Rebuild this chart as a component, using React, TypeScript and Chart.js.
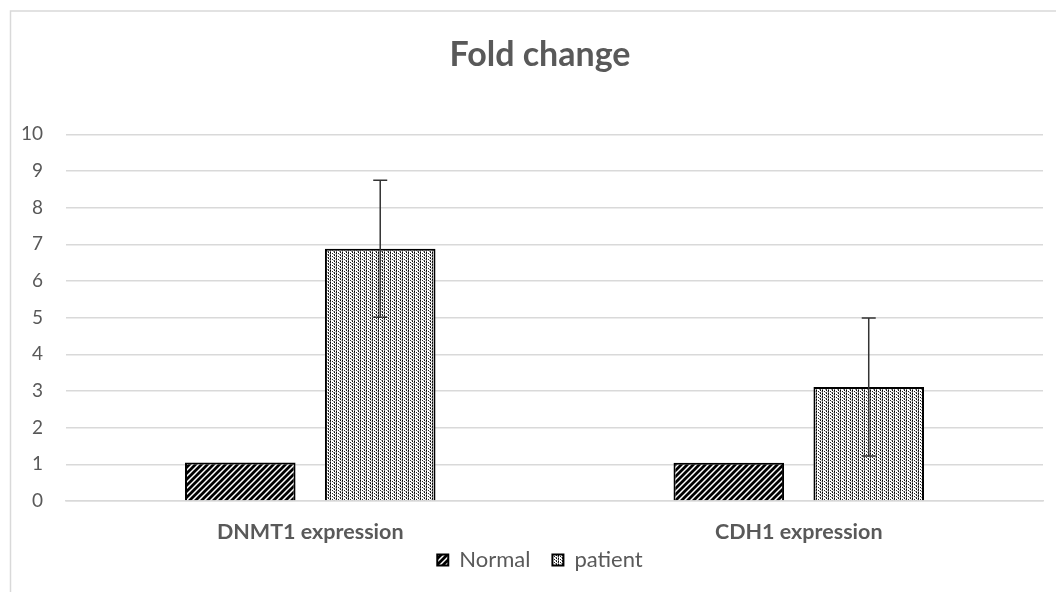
import React, { useEffect, useRef } from "react";
import { Chart, registerables } from "chart.js";

Chart.register(...registerables);

const categories = ["DNMT1 expression", "CDH1 expression"];
const seriesNames = ["Normal", "patient"];
const normalValues = [1.05, 1.04];
const patientValues = [6.88, 3.11];
const patientErrors = [1.87, 1.88];
const yTicks = [0, 1, 2, 3, 4, 5, 6, 7, 8, 9, 10];
const titleText = "Fold change";

const TEXT = "#595959";
const GRID = "#d9d9d9";
const FONT = "Lato, 'Open Sans', sans-serif";
const Y_FONT_SIZE = 19;

function makeHatch(): CanvasPattern | string {
  const c = document.createElement("canvas");
  c.width = 6;
  c.height = 6;
  const g = c.getContext("2d");
  if (!g) return "#444";
  g.fillStyle = "#ffffff";
  g.fillRect(0, 0, 6, 6);
  g.strokeStyle = "#000000";
  g.lineWidth = 2.8;
  g.beginPath();
  g.moveTo(-1, 7);
  g.lineTo(7, -1);
  g.moveTo(-4, 4);
  g.lineTo(4, -4);
  g.moveTo(2, 10);
  g.lineTo(10, 2);
  g.stroke();
  const p = g.createPattern(c, "repeat");
  return p || "#444";
}

function makeDots(): CanvasPattern | string {
  const c = document.createElement("canvas");
  c.width = 6;
  c.height = 3;
  const g = c.getContext("2d");
  if (!g) return "#ccc";
  g.fillStyle = "#ffffff";
  g.fillRect(0, 0, 6, 3);
  const px = (x: number, y: number, col: string) => {
    g.fillStyle = col;
    g.fillRect(x, y, 1, 1);
  };
  px(0, 0, "#000000");
  px(0, 1, "#333333");
  px(0, 2, "#777777");
  px(2, 1, "#222222");
  px(4, 0, "#111111");
  px(4, 2, "#444444");
  px(3, 2, "#999999");
  px(5, 1, "#bbbbbb");
  const p = g.createPattern(c, "repeat");
  return p || "#ccc";
}

function measureWidest(): number {
  const c = document.createElement("canvas");
  const g = c.getContext("2d");
  if (!g) return 21;
  g.font = `normal ${Y_FONT_SIZE}px ${FONT}`;
  let w = 0;
  yTicks.forEach((t) => {
    w = Math.max(w, g.measureText(String(t)).width);
  });
  return w;
}

const framePlugin = {
  id: "frame",
  beforeDraw(chart: any) {
    const ctx = chart.ctx;
    ctx.save();
    ctx.fillStyle = "#ffffff";
    ctx.fillRect(0, 0, chart.width, chart.height);
    ctx.strokeStyle = GRID;
    ctx.lineWidth = 1.5;
    ctx.strokeRect(10.5, 11, 1200, 800);
    ctx.restore();
  },
};

const legendShiftPlugin = {
  id: "legendShift",
  afterLayout(chart: any) {
    const lg = chart.legend;
    if (!lg) return;
    const shift = 17.6;
    lg.top -= shift;
    lg.bottom -= shift;
  },
};

const errorBarPlugin = {
  id: "errorBars",
  afterDatasetsDraw(chart: any) {
    const ctx = chart.ctx;
    const meta = chart.getDatasetMeta(1);
    const yScale = chart.scales.y;
    ctx.save();
    ctx.strokeStyle = "#333333";
    ctx.lineWidth = 1.5;
    meta.data.forEach((bar: any, i: number) => {
      const v = patientValues[i];
      const e = patientErrors[i];
      const yt = yScale.getPixelForValue(v + e);
      const yb = yScale.getPixelForValue(v - e);
      const x = bar.x;
      ctx.beginPath();
      ctx.moveTo(x, yt);
      ctx.lineTo(x, yb);
      ctx.moveTo(x - 7, yt);
      ctx.lineTo(x + 7, yt);
      ctx.moveTo(x - 7, yb);
      ctx.lineTo(x + 7, yb);
      ctx.stroke();
    });
    ctx.restore();
  },
};

export default function App() {
  const ref = useRef<HTMLCanvasElement | null>(null);

  useEffect(() => {
    if (!ref.current) return;
    const hatch = makeHatch();
    const dots = makeDots();
    const widest = measureWidest();
    const chart = new Chart(ref.current, {
      type: "bar",
      data: {
        labels: categories,
        datasets: [
          {
            label: seriesNames[0],
            data: normalValues,
            backgroundColor: hatch as any,
            borderColor: "#000000",
            borderWidth: 2,
            categoryPercentage: 0.573,
            barPercentage: 0.79,
          },
          {
            label: seriesNames[1],
            data: patientValues,
            backgroundColor: dots as any,
            borderColor: "#000000",
            borderWidth: 2,
            categoryPercentage: 0.573,
            barPercentage: 0.79,
          },
        ],
      },
      options: {
        animation: false,
        responsive: true,
        maintainAspectRatio: false,
        layout: { padding: { top: 0, left: 37, right: 13, bottom: -6.6 } },
        plugins: {
          title: {
            display: true,
            text: titleText,
            color: TEXT,
            font: { family: FONT, size: 34, weight: "bold", lineHeight: 1.2 },
            padding: { top: 35.1, bottom: 58.4 },
          },
          legend: {
            position: "bottom",
            labels: {
              color: TEXT,
              font: { family: FONT, size: 22 },
              boxWidth: 11,
              boxHeight: 11,
              padding: 22,
            },
          },
          tooltip: { enabled: false },
        },
        scales: {
          x: {
            grid: { display: false, drawTicks: false },
            border: { color: GRID, width: 1.5 },
            ticks: {
              color: TEXT,
              font: { family: FONT, size: 21.5, weight: "bold", lineHeight: 1.2 },
              padding: 18.1,
            },
            afterFit(scale: any) {
              scale.height = 43.6;
            },
          },
          y: {
            min: 0,
            max: 10,
            afterBuildTicks(scale: any) {
              scale.ticks = yTicks.map((v) => ({ value: v }));
            },
            grid: { color: GRID, lineWidth: 1.5, drawTicks: false },
            border: { display: false },
            ticks: {
              color: TEXT,
              font: { family: FONT, size: Y_FONT_SIZE },
              mirror: true,
              crossAlign: "far",
              padding: -23 - widest,
            },
            afterFit(scale: any) {
              scale.width = 29;
            },
          },
        },
      },
      plugins: [framePlugin, legendShiftPlugin, errorBarPlugin],
    });
    return () => chart.destroy();
  }, []);

  return (
    <div style={{ position: "fixed", left: 0, top: 0, width: 1056, height: 592 }}>
      <canvas ref={ref} />
    </div>
  );
}
